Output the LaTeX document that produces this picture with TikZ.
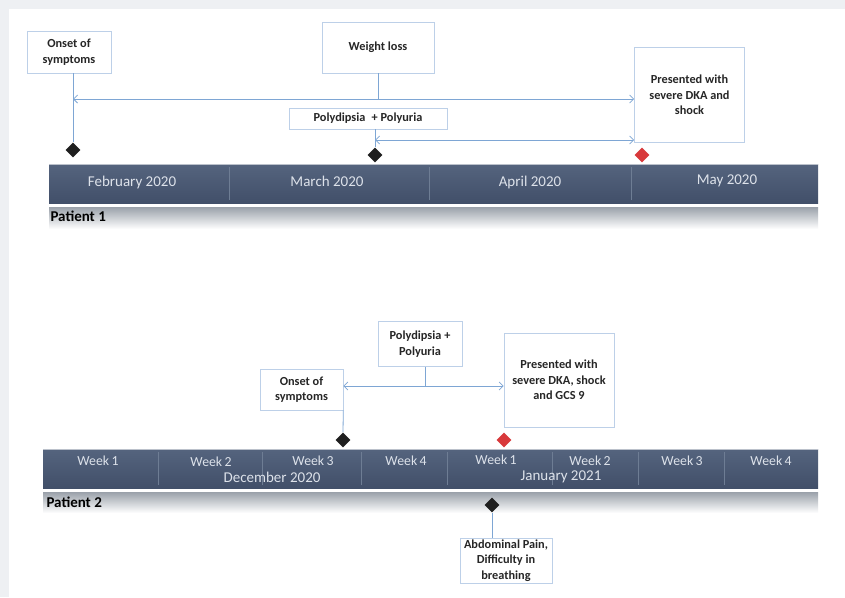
\documentclass[tikz,border=0pt]{standalone}
\usepackage{fontspec}
\setmainfont{Carlito}
\usetikzlibrary{shapes.geometric,arrows.meta}
\definecolor{bgout}{HTML}{EEF0F3}
\definecolor{boxline}{HTML}{BDD0E8}
\definecolor{conn}{HTML}{7EA6D4}
\definecolor{bartop}{HTML}{55647E}
\definecolor{barbot}{HTML}{414F69}
\definecolor{bartext}{HTML}{DDE2EA}
\definecolor{divc}{HTML}{6E7D94}
\definecolor{stripc}{HTML}{9AA1AA}
\definecolor{redd}{HTML}{D8393B}
\tikzset{
  evbox/.style={draw=boxline, line width=0.6pt, fill=white, align=center, inner sep=1pt,
     font=\bfseries\fontsize{12.3}{15.5}\selectfont, text=black!85},
  mk/.style={diamond, minimum size=15pt, inner sep=0pt, fill=black!88},
  mkred/.style={diamond, minimum size=15pt, inner sep=0pt, fill=redd},
  conline/.style={draw=conn, line width=0.8pt},
  conarrow/.style={conline, {Straight Barb[length=4pt,width=8pt]}-{Straight Barb[length=4pt,width=8pt]}},
  barlbl/.style={text=bartext, font=\fontsize{15}{17}\selectfont},
  wklbl/.style={text=bartext, font=\fontsize{13.8}{16}\selectfont},
  divline/.style={draw=divc, line width=0.6pt},
  patlbl/.style={anchor=west, font=\bfseries\fontsize{15}{17}\selectfont, text=black},
}
\begin{document}
\begin{tikzpicture}[x=1pt,y=-1pt]
\useasboundingbox (0,0) rectangle (845,597);
\fill[bgout] (0,0) rectangle (845,597);
\fill[white] (9,9) rectangle (845,597);

% ---------------- Patient 1 ----------------
\shade[top color=bartop, bottom color=barbot] (49,164) rectangle (818,203);
\draw[white!60!bartop, line width=0.6pt] (49,164.3) -- (818,164.3);
\foreach \xx in {229,429,631} \draw[divline] (\xx,167) -- (\xx,200);
\node[barlbl] (feb) at (132,182) {February 2020};
\node[barlbl] (mar) at (327,181) {March 2020};
\node[barlbl] (apr) at (530,182) {April 2020};
\node[barlbl] (may) at (727,181) {May 2020};
\shade[top color=stripc, bottom color=white] (49,207) rectangle (818,229);
\node[patlbl] (p1) at (47,216) {Patient 1};

\node[evbox, minimum width=84pt, minimum height=42pt] (on1) at (69,52) {Onset of\\symptoms};
\node[evbox, minimum width=112pt, minimum height=51pt] (wl) at (378,47.5) {Weight loss};
\node[evbox, minimum width=158pt, minimum height=21pt] (pp1) at (368,118.5) {Polydipsia\enspace+ Polyuria};
\node[evbox, minimum width=110pt, minimum height=95pt] (pr1) at (689.5,95) {Presented with\\severe DKA and\\shock};

\node[mk] (d1) at (73,150) {};
\node[mk] (d2) at (375,155) {};
\node[mkred] (d3) at (642,155) {};

\coordinate (a1l) at (73,99);
\coordinate (wlj) at (378,99);
\coordinate (a2l) at (375,140);
\draw[conline] (on1.south -| d1) -- (d1.north);
\draw[conline] (wl.south) -- (wlj);
\draw[conarrow] (a1l) -- (a1l -| pr1.west);
\draw[conline] (a2l |- pp1.south) -- (d2.north);
\draw[conarrow] (a2l) -- (a2l -| pr1.west);

% ---------------- Patient 2 ----------------
\shade[top color=bartop, bottom color=barbot] (43,449) rectangle (818,488);
\draw[white!60!bartop, line width=0.6pt] (43,449.3) -- (818,449.3);
\foreach \xx in {158,262,361,447,552,638,724} \draw[divline] (\xx,452) -- (\xx,485);
\node[wklbl] (w1) at (98,461) {Week\,1};
\node[wklbl] (w2) at (211,462) {Week\,2};
\node[wklbl] (w3) at (313,461) {Week\,3};
\node[wklbl] (w4) at (406,461) {Week\,4};
\node[wklbl] (w5) at (496,460) {Week\,1};
\node[wklbl] (w6) at (590,461) {Week\,2};
\node[wklbl] (w7) at (682,461) {Week\,3};
\node[wklbl] (w8) at (771,461) {Week\,4};
\node[barlbl] (dec) at (272,477) {December 2020};
\node[barlbl] (jan) at (561,477) {January 2021};
\shade[top color=stripc, bottom color=white] (43,492) rectangle (818,513);
\node[patlbl] (p2) at (43,502) {Patient 2};

\node[evbox, minimum width=84pt, minimum height=45pt] (pp2) at (420,344) {Polydipsia +\\Polyuria};
\node[evbox, minimum width=83pt, minimum height=41pt] (on2) at (301.5,389.5) {Onset of\\symptoms};
\node[evbox, minimum width=110pt, minimum height=94pt] (pr2) at (559,380) {Presented with\\severe DKA, shock\\and GCS 9};
\node[evbox, minimum width=92pt, minimum height=45pt] (ab) at (506,560.5) {Abdominal Pain,\\Difficulty in\\breathing};

\node[mk] (d4) at (343,440) {};
\node[mkred] (d5) at (504,440) {};
\node[mk] (d6) at (492,505) {};

\coordinate (a3) at (425,386);
\draw[conline] (on2.south east) -- (d4.north);
\draw[conline] (pp2.south -| a3) -- (a3);
\draw[conarrow] (a3 -| on2.east) -- (a3 -| pr2.west);
\draw[conline] (d6.south) -- (d6 |- ab.north);
\end{tikzpicture}
\end{document}
